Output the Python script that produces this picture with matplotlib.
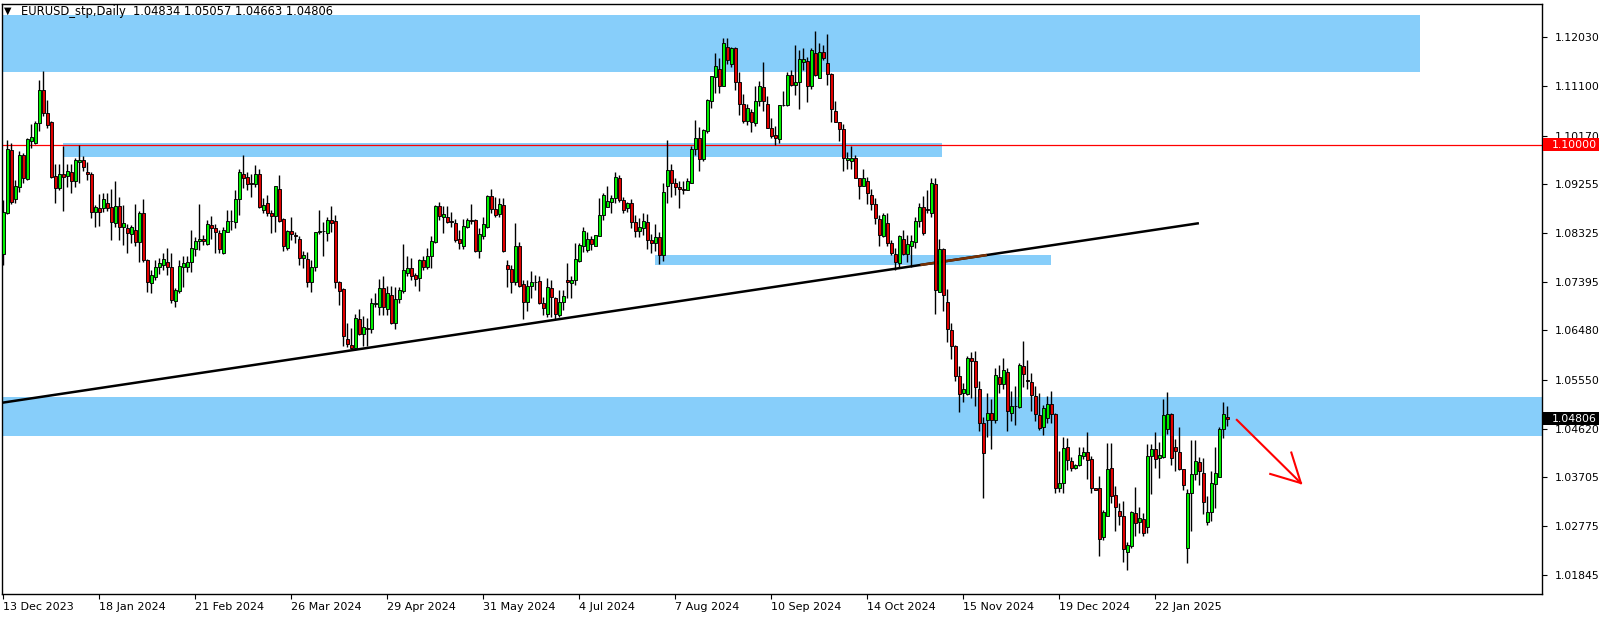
import matplotlib
matplotlib.use("Agg")
import matplotlib.pyplot as plt
import numpy as np
from matplotlib.patches import Rectangle
from matplotlib.transforms import blended_transform_factory

# ---------------- data (EURUSD daily) ----------------
O = [1.0792,1.0871,1.0990,1.0896,1.0920,1.0980,1.0935,1.1007,1.1002,1.1040,
     1.1104,1.1059,1.1043,1.0940,1.0918,1.0944,1.0941,1.0947,1.0930,1.0966,
     1.0971,1.0947,1.0945,1.0873,1.0879,1.0880,1.0889,1.0882,1.0851,1.0884,
     1.0843,1.0841,1.0830,1.0838,1.0816,1.0870,1.0781,1.0738,1.0750,1.0769,
     1.0772,1.0777,1.0769,1.0704,1.0723,1.0769,1.0769,1.0777,1.0802,1.0817,
     1.0821,1.0811,1.0848,1.0841,1.0832,1.0794,1.0835,1.0855,1.0854,1.0896,
     1.0945,1.0939,1.0927,1.0925,1.0944,1.0876,1.0889,1.0870,1.0864,1.0915,
     1.0859,1.0805,1.0836,1.0829,1.0822,1.0786,1.0783,1.0740,1.0768,1.0834,
     1.0836,1.0833,1.0857,1.0855,1.0740,1.0726,1.0631,1.0620,1.0615,1.0669,
     1.0641,1.0653,1.0650,1.0698,1.0693,1.0728,1.0688,1.0715,1.0663,1.0707,
     1.0722,1.0757,1.0766,1.0753,1.0747,1.0781,1.0769,1.0789,1.0815,1.0884,
     1.0862,1.0863,1.0855,1.0852,1.0821,1.0808,1.0843,1.0857,1.0857,1.0799,
     1.0826,1.0843,1.0902,1.0877,1.0868,1.0885,1.0772,1.0764,1.0739,1.0807,
     1.0735,1.0701,1.0732,1.0739,1.0742,1.0699,1.0679,1.0729,1.0709,1.0677,
     1.0701,1.0744,1.0737,1.0743,1.0780,1.0807,1.0800,1.0821,1.0808,1.0827,
     1.0866,1.0882,1.0892,1.0898,1.0936,1.0895,1.0879,1.0889,1.0853,1.0837,
     1.0841,1.0853,1.0819,1.0813,1.0824,1.0790,1.0922,1.0952,1.0928,1.0919,
     1.0916,1.0914,1.0928,1.0991,1.1012,1.0972,1.1026,1.1083,1.1128,1.1142,
     1.1111,1.1184,1.1152,1.1182,1.1118,1.1076,1.1045,1.1061,1.1041,1.1082,
     1.1108,1.1076,1.1031,1.1018,1.1010,1.1075,1.1074,1.1132,1.1112,1.1118,
     1.1157,1.1158,1.1110,1.1173,1.1126,1.1175,1.1154,1.1133,1.1064,1.1042,
     1.1029,1.0970,1.0969,1.0975,1.0936,1.0922,1.0931,1.0905,1.0887,1.0859,
     1.0827,1.0851,1.0813,1.0792,1.0775,1.0821,1.0793,1.0808,1.0816,1.0855,
     1.0881,1.0878,1.0870,1.0925,1.0720,1.0802,1.0701,1.0649,1.0619,1.0562,
     1.0529,1.0527,1.0595,1.0590,1.0538,1.0472,1.0479,1.0491,1.0479,1.0559,
     1.0546,1.0569,1.0492,1.0505,1.0503,1.0581,1.0554,1.0550,1.0524,1.0488,
     1.0465,1.0482,1.0509,1.0490,1.0349,1.0360,1.0428,1.0400,1.0388,1.0393,
     1.0410,1.0417,1.0405,1.0349,1.0349,1.0256,1.0297,1.0387,1.0336,1.0306,
     1.0297,1.0228,1.0240,1.0302,1.0285,1.0291,1.0276,1.0411,1.0423,1.0406,
     1.0409,1.0461,1.0490,1.0427,1.0417,1.0385,1.0236,1.0341,1.0376,1.0398,
     1.0379,1.0286,1.0304,1.0357,1.0371,1.0461,1.04834]
H = [1.0895,1.1009,1.1002,1.0932,1.0988,1.0983,1.1012,1.1039,1.1045,1.1122,
     1.1139,1.1084,1.1045,1.0964,1.0964,1.0997,1.0964,1.0964,1.0974,1.0999,
     1.0979,1.0966,1.0947,1.0885,1.0906,1.0909,1.0909,1.0916,1.0931,1.0901,
     1.0885,1.0850,1.0848,1.0887,1.0875,1.0896,1.0784,1.0762,1.0782,1.0786,
     1.0794,1.0805,1.0795,1.0728,1.0782,1.0788,1.0788,1.0838,1.0825,1.0887,
     1.0829,1.0858,1.0865,1.0849,1.0839,1.0844,1.0876,1.0876,1.0914,1.0954,
     1.0980,1.0947,1.0945,1.0962,1.0953,1.0898,1.0904,1.0876,1.0921,1.0942,
     1.0860,1.0839,1.0863,1.0835,1.0827,1.0799,1.0797,1.0781,1.0835,1.0876,
     1.0854,1.0863,1.0884,1.0867,1.0742,1.0729,1.0663,1.0652,1.0679,1.0688,
     1.0676,1.0671,1.0709,1.0718,1.0745,1.0751,1.0732,1.0732,1.0731,1.0731,
     1.0812,1.0789,1.0786,1.0757,1.0783,1.0789,1.0805,1.0826,1.0885,1.0892,
     1.0884,1.0884,1.0873,1.0859,1.0838,1.0859,1.0860,1.0887,1.0859,1.0841,
     1.0863,1.0904,1.0915,1.0901,1.0898,1.0898,1.0782,1.0772,1.0851,1.0816,
     1.0744,1.0744,1.0761,1.0753,1.0751,1.0712,1.0747,1.0744,1.0712,1.0725,
     1.0725,1.0775,1.0751,1.0814,1.0814,1.0843,1.0835,1.0826,1.0829,1.0898,
     1.0908,1.0921,1.0904,1.0947,1.0942,1.0901,1.0892,1.0896,1.0867,1.0860,
     1.0870,1.0869,1.0830,1.0850,1.0835,1.0927,1.1009,1.0963,1.0936,1.0931,
     1.0931,1.0937,1.0997,1.1046,1.1033,1.1029,1.1086,1.1130,1.1173,1.1163,
     1.1201,1.1201,1.1185,1.1185,1.1138,1.1096,1.1076,1.1068,1.1110,1.1120,
     1.1156,1.1092,1.1050,1.1035,1.1075,1.1101,1.1138,1.1141,1.1188,1.1179,
     1.1182,1.1165,1.1182,1.1215,1.1192,1.1188,1.1209,1.1135,1.1082,1.1043,
     1.1039,1.0985,1.0997,1.0980,1.0936,1.0954,1.0939,1.0916,1.0898,1.0867,
     1.0870,1.0870,1.0819,1.0805,1.0829,1.0838,1.0829,1.0829,1.0863,1.0889,
     1.0903,1.0914,1.0937,1.0936,1.0822,1.0804,1.0726,1.0662,1.0620,1.0581,
     1.0548,1.0600,1.0608,1.0609,1.0553,1.0485,1.0530,1.0518,1.0576,1.0583,
     1.0595,1.0576,1.0534,1.0543,1.0586,1.0628,1.0592,1.0568,1.0542,1.0530,
     1.0507,1.0523,1.0533,1.0491,1.0420,1.0447,1.0444,1.0408,1.0396,1.0427,
     1.0427,1.0455,1.0411,1.0350,1.0372,1.0308,1.0434,1.0434,1.0354,1.0321,
     1.0325,1.0248,1.0307,1.0351,1.0313,1.0302,1.0433,1.0433,1.0455,1.0437,
     1.0519,1.0531,1.0491,1.0442,1.0465,1.0386,1.0348,1.0440,1.0440,1.0408,
     1.0406,1.0335,1.0381,1.0427,1.0465,1.0512,1.05057]
L = [1.0772,1.0868,1.0887,1.0890,1.0911,1.0928,1.0933,1.0993,1.1001,1.1026,
     1.1054,1.1032,1.0936,1.0890,1.0913,1.0875,1.0920,1.0909,1.0920,1.0928,
     1.0949,1.0933,1.0860,1.0843,1.0845,1.0873,1.0875,1.0819,1.0843,1.0819,
     1.0810,1.0794,1.0813,1.0807,1.0778,1.0778,1.0721,1.0719,1.0743,1.0755,
     1.0762,1.0753,1.0699,1.0693,1.0718,1.0730,1.0759,1.0759,1.0788,1.0800,
     1.0810,1.0810,1.0822,1.0794,1.0794,1.0793,1.0835,1.0839,1.0841,1.0866,
     1.0917,1.0913,1.0900,1.0920,1.0879,1.0871,1.0865,1.0833,1.0835,1.0854,
     1.0799,1.0800,1.0820,1.0813,1.0772,1.0766,1.0730,1.0721,1.0761,1.0831,
     1.0789,1.0818,1.0835,1.0728,1.0696,1.0619,1.0617,1.0612,1.0611,1.0640,
     1.0619,1.0619,1.0643,1.0693,1.0677,1.0677,1.0677,1.0661,1.0650,1.0699,
     1.0718,1.0751,1.0744,1.0732,1.0722,1.0762,1.0764,1.0766,1.0814,1.0858,
     1.0833,1.0851,1.0843,1.0816,1.0803,1.0803,1.0841,1.0849,1.0797,1.0786,
     1.0821,1.0841,1.0871,1.0863,1.0863,1.0797,1.0731,1.0718,1.0734,1.0731,
     1.0669,1.0684,1.0709,1.0725,1.0698,1.0677,1.0674,1.0674,1.0669,1.0674,
     1.0687,1.0709,1.0709,1.0734,1.0778,1.0797,1.0797,1.0800,1.0807,1.0826,
     1.0858,1.0881,1.0870,1.0889,1.0892,1.0871,1.0873,1.0841,1.0824,1.0824,
     1.0829,1.0802,1.0795,1.0798,1.0774,1.0780,1.0890,1.0900,1.0904,1.0879,
     1.0906,1.0913,1.0927,1.0980,1.0949,1.0968,1.1021,1.1070,1.1098,1.1097,
     1.1110,1.1152,1.1147,1.1103,1.1056,1.1041,1.1036,1.1024,1.1035,1.1073,
     1.1064,1.1031,1.1012,1.1000,1.1003,1.1073,1.1072,1.1110,1.1094,1.1067,
     1.1141,1.1081,1.1106,1.1130,1.1125,1.1160,1.1112,1.1043,1.1043,1.1007,
     1.0949,1.0953,1.0953,1.0937,1.0897,1.0922,1.0887,1.0876,1.0850,1.0808,
     1.0824,1.0808,1.0790,1.0762,1.0769,1.0790,1.0778,1.0769,1.0805,1.0843,
     1.0829,1.0870,1.0863,1.0679,1.0720,1.0684,1.0627,1.0593,1.0553,1.0494,
     1.0513,1.0526,1.0521,1.0504,1.0458,1.0330,1.0446,1.0423,1.0472,1.0529,
     1.0538,1.0458,1.0477,1.0469,1.0501,1.0540,1.0538,1.0496,1.0477,1.0460,
     1.0450,1.0472,1.0472,1.0341,1.0342,1.0340,1.0383,1.0381,1.0386,1.0391,
     1.0404,1.0366,1.0341,1.0345,1.0220,1.0251,1.0296,1.0321,1.0269,1.0280,
     1.0209,1.0195,1.0236,1.0258,1.0264,1.0258,1.0264,1.0338,1.0388,1.0369,
     1.0406,1.0451,1.0393,1.0381,1.0384,1.0346,1.0208,1.0268,1.0365,1.0355,
     1.0300,1.0280,1.0288,1.0311,1.0370,1.0445,1.04663]
C = [1.0873,1.0991,1.0892,1.0921,1.0980,1.0936,1.1010,1.1014,1.1040,1.1104,
     1.1059,1.1036,1.0939,1.0918,1.0944,1.0939,1.0949,1.0930,1.0971,1.0971,
     1.0958,1.0944,1.0873,1.0881,1.0873,1.0896,1.0880,1.0853,1.0884,1.0843,
     1.0851,1.0832,1.0843,1.0816,1.0870,1.0781,1.0740,1.0753,1.0769,1.0775,
     1.0783,1.0769,1.0706,1.0725,1.0770,1.0775,1.0778,1.0805,1.0818,1.0821,
     1.0818,1.0849,1.0841,1.0835,1.0803,1.0838,1.0855,1.0856,1.0896,1.0947,
     1.0936,1.0925,1.0925,1.0945,1.0881,1.0885,1.0870,1.0864,1.0921,1.0856,
     1.0807,1.0836,1.0830,1.0826,1.0786,1.0791,1.0740,1.0768,1.0835,1.0836,
     1.0837,1.0857,1.0852,1.0740,1.0723,1.0638,1.0622,1.0615,1.0671,1.0641,
     1.0654,1.0650,1.0699,1.0700,1.0728,1.0692,1.0718,1.0663,1.0707,1.0725,
     1.0762,1.0767,1.0751,1.0745,1.0781,1.0769,1.0789,1.0817,1.0884,1.0865,
     1.0868,1.0854,1.0853,1.0819,1.0813,1.0846,1.0857,1.0855,1.0799,1.0830,
     1.0850,1.0902,1.0877,1.0866,1.0887,1.0799,1.0764,1.0739,1.0807,1.0733,
     1.0701,1.0732,1.0739,1.0740,1.0699,1.0690,1.0731,1.0712,1.0679,1.0701,
     1.0713,1.0739,1.0743,1.0783,1.0810,1.0836,1.0822,1.0811,1.0829,1.0867,
     1.0904,1.0893,1.0898,1.0938,1.0895,1.0876,1.0889,1.0853,1.0837,1.0843,
     1.0855,1.0819,1.0813,1.0824,1.0791,1.0910,1.0952,1.0928,1.0920,1.0916,
     1.0914,1.0930,1.0991,1.1012,1.0972,1.1028,1.1084,1.1130,1.1149,1.1111,
     1.1192,1.1160,1.1182,1.1118,1.1076,1.1045,1.1070,1.1043,1.1082,1.1111,
     1.1083,1.1032,1.1017,1.1012,1.1075,1.1074,1.1132,1.1112,1.1118,1.1162,
     1.1162,1.1110,1.1179,1.1132,1.1176,1.1163,1.1133,1.1067,1.1043,1.1029,
     1.0974,1.0975,1.0975,1.0937,1.0922,1.0936,1.0908,1.0887,1.0860,1.0829,
     1.0867,1.0813,1.0795,1.0778,1.0827,1.0793,1.0811,1.0817,1.0855,1.0881,
     1.0833,1.0876,1.0927,1.0725,1.0802,1.0716,1.0650,1.0619,1.0561,1.0527,
     1.0538,1.0595,1.0591,1.0540,1.0472,1.0415,1.0491,1.0479,1.0564,1.0546,
     1.0574,1.0496,1.0505,1.0504,1.0583,1.0565,1.0552,1.0525,1.0490,1.0464,
     1.0501,1.0509,1.0490,1.0349,1.0360,1.0425,1.0403,1.0388,1.0394,1.0413,
     1.0418,1.0403,1.0350,1.0345,1.0253,1.0304,1.0385,1.0335,1.0314,1.0297,
     1.0234,1.0241,1.0304,1.0284,1.0292,1.0265,1.0411,1.0423,1.0404,1.0412,
     1.0488,1.0490,1.0406,1.0419,1.0385,1.0355,1.0341,1.0376,1.0401,1.0381,
     1.0324,1.0304,1.0359,1.0379,1.0461,1.0489,1.04806]

date_labels = ["13 Dec 2023", "18 Jan 2024", "21 Feb 2024", "26 Mar 2024",
               "29 Apr 2024", "31 May 2024", "4 Jul 2024", "7 Aug 2024",
               "10 Sep 2024", "14 Oct 2024", "15 Nov 2024", "19 Dec 2024",
               "22 Jan 2025"]
date_bars = [0, 24, 48, 72, 96, 120, 144, 168, 192, 216, 240, 264, 288]

price_ticks = [1.12030, 1.11100, 1.10170, 1.09255, 1.08325, 1.07395,
               1.06480, 1.05550, 1.04620, 1.03705, 1.02775, 1.01845]

# supply / demand zones: (first bar, last bar, low price, high price)
zone_bars_start = [-1.0, 14.9, 162.9, -1.0]
zone_bars_end = [354.2, 234.7, 261.9, 400.0]
zone_low = [1.11373, 1.09769, 1.07719, 1.04481]
zone_high = [1.12452, 1.10030, 1.07908, 1.05225]

level_price = 1.10000
trend_bars = [-0.4, 298.9]
trend_prices = [1.0511, 1.0851]
arrow_bars = [308.2, 324.4]
arrow_prices = [1.0480, 1.0359]

symbol = "EURUSD_stp,Daily"

# ---------------- figure ----------------
W, Hpx = 1604, 619
fig = plt.figure(figsize=(W / 100, Hpx / 100), dpi=100)
fig.patch.set_facecolor("white")
ax_l, ax_r, ax_t, ax_b = 2, 1542, 4, 594
ax = fig.add_axes([ax_l / W, 1 - ax_b / Hpx, (ax_r - ax_l) / W, (ax_b - ax_t) / Hpx])
ax.set_facecolor("white")

px_per_bar = 4.0
x0_bar = -(3.3 - ax_l) / px_per_bar
ax.set_xlim(x0_bar, x0_bar + (ax_r - ax_l) / px_per_bar)
ax.set_ylim(1.01490, 1.12660)

BLUE = "#87CEFA"
for xs, xe, lo, hi in zip(zone_bars_start, zone_bars_end, zone_low, zone_high):
    ax.add_patch(Rectangle((xs, lo), xe - xs, hi - lo, facecolor=BLUE,
                           edgecolor="none", zorder=1))

ax.axhline(level_price, color="#FF0000", lw=0.9, zorder=1.5)

# trend line (black; appears inverted/brown over the blue zone like in MT4)
tb = np.array(trend_bars)
tp = np.array(trend_prices)
ax.plot(tb, tp, color="black", lw=1.8, zorder=2, solid_capstyle="butt")
slope = (tp[1] - tp[0]) / (tb[1] - tb[0])
z = 2
b_in = max(tb[0] + (zone_low[z] - tp[0]) / slope, zone_bars_start[z])
b_out = min(tb[0] + (zone_high[z] - tp[0]) / slope, zone_bars_end[z])
if b_out > b_in:
    ax.plot([b_in, b_out], [tp[0] + slope * (b_in - tb[0]), tp[0] + slope * (b_out - tb[0])],
            color="#783105", lw=1.8, zorder=2.1, solid_capstyle="butt")

# candles
O_ = np.array(O); H_ = np.array(H); L_ = np.array(L); C_ = np.array(C)
x = np.arange(len(C_))
ax.vlines(x, L_, H_, colors="black", lw=1.0, zorder=3)
bull = C_ >= O_
cols = np.where(bull, "#00F000", "#E00000")
ax.bar(x, np.abs(C_ - O_), bottom=np.minimum(O_, C_), width=0.62, color=cols,
       edgecolor="black", linewidth=0.65, zorder=4)

# red arrow
ab = np.array(arrow_bars); ap = np.array(arrow_prices)
ax.plot(ab, ap, color="#FF0000", lw=1.5, zorder=5, solid_capstyle="butt")
dx_pix = (ab[1] - ab[0]) * px_per_bar
dy_pix = (ap[1] - ap[0]) * 5282.0
ang = np.arctan2(dy_pix, dx_pix)
for da in (np.radians(28), -np.radians(28)):
    hx = ab[1] - np.cos(ang + da) * 32 / px_per_bar
    hy = ap[1] - np.sin(ang + da) * 32 / 5282.0
    ax.plot([ab[1], hx], [ap[1], hy], color="#FF0000", lw=1.5, zorder=5)

for s in ax.spines.values():
    s.set_color("black")
    s.set_linewidth(1.0)
ax.yaxis.tick_right()
ax.set_yticks(price_ticks)
ax.set_yticklabels([f"{p:.5f}" for p in price_ticks])
ax.tick_params(axis="y", direction="out", length=3.5, width=0.8, pad=6,
               labelsize=7.8, colors="black")
ax.set_xticks(date_bars)
ax.set_xticklabels(date_labels)
ax.tick_params(axis="x", direction="out", length=3.5, width=0.8, pad=2,
               labelsize=8.0, colors="black")
for lab in ax.get_xticklabels():
    lab.set_horizontalalignment("left")

# price marker boxes on the axis
btr = blended_transform_factory(ax.transAxes, ax.transData)
box_w = (1598 - ax_r) / (ax_r - ax_l)
box_h = 13 / 5282.0
for price, fc in ((level_price, "#FF0000"), (C[-1], "black")):
    ax.add_patch(Rectangle((1.0005, price - box_h / 2), box_w, box_h, transform=btr,
                           facecolor=fc, edgecolor="none", clip_on=False, zorder=6))
    ax.text(1.0 + 10 / (ax_r - ax_l), price, f"{price:.5f}", transform=btr, color="white",
            fontsize=7.8, va="center", ha="left", zorder=7, clip_on=False)

# header
fig.text(4 / W, 1 - 11 / Hpx, "\u25BC", fontsize=7, va="center", ha="left", color="black")
fig.text(21 / W, 1 - 11 / Hpx,
         f"{symbol}  {O[-1]:.5f} {H[-1]:.5f} {L[-1]:.5f} {C[-1]:.5f}",
         fontsize=8.3, va="center", ha="left", color="black")

fig.savefig("out.png", dpi=100)
